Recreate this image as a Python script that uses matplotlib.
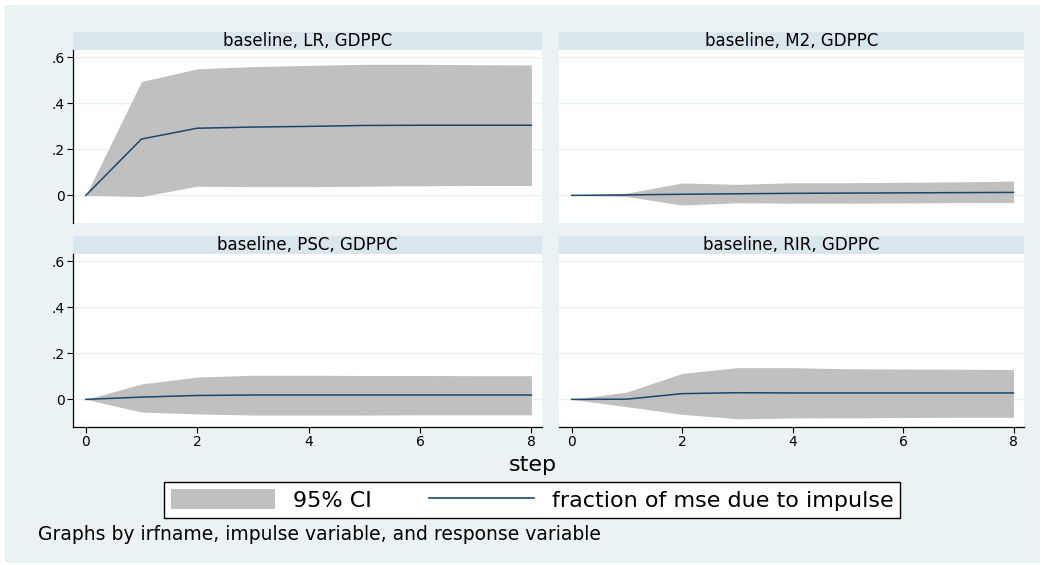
import matplotlib.pyplot as plt
from matplotlib.patches import Rectangle, Patch
from matplotlib.lines import Line2D

W, H = 1049, 565

steps = [0, 1, 2, 3, 4, 5, 6, 7, 8]

titles = ["baseline, LR, GDPPC", "baseline, M2, GDPPC",
          "baseline, PSC, GDPPC", "baseline, RIR, GDPPC"]

# fraction of mse due to impulse, with 95% CI bounds
lr_fev = [0, 0.245, 0.292, 0.297, 0.300, 0.304, 0.305, 0.305, 0.305]
lr_lo = [0, -0.005, 0.040, 0.038, 0.038, 0.040, 0.042, 0.043, 0.043]
lr_hi = [0, 0.495, 0.550, 0.560, 0.565, 0.570, 0.570, 0.568, 0.567]

m2_fev = [0, 0.002, 0.005, 0.007, 0.009, 0.010, 0.011, 0.012, 0.013]
m2_lo = [0, -0.005, -0.042, -0.032, -0.034, -0.034, -0.033, -0.031, -0.031]
m2_hi = [0, 0.010, 0.054, 0.048, 0.055, 0.055, 0.057, 0.059, 0.062]

psc_fev = [0, 0.010, 0.017, 0.019, 0.019, 0.019, 0.019, 0.019, 0.019]
psc_lo = [0, -0.055, -0.063, -0.068, -0.068, -0.068, -0.067, -0.067, -0.067]
psc_hi = [0, 0.067, 0.097, 0.105, 0.105, 0.104, 0.104, 0.103, 0.103]

rir_fev = [0, 0.001, 0.025, 0.029, 0.028, 0.028, 0.028, 0.028, 0.028]
rir_lo = [0, -0.032, -0.065, -0.084, -0.081, -0.080, -0.079, -0.078, -0.078]
rir_hi = [0, 0.032, 0.113, 0.138, 0.138, 0.133, 0.132, 0.131, 0.130]

series = [(lr_fev, lr_lo, lr_hi), (m2_fev, m2_lo, m2_hi),
          (psc_fev, psc_lo, psc_hi), (rir_fev, rir_lo, rir_hi)]

bg = "#EAF2F3"
strip = "#D9E6EB"
ci_col = "#C0C0C0"
navy = "#1A476F"


def rect(x0, y0, x1, y1):
    return [x0 / W, 1 - y1 / H, (x1 - x0) / W, (y1 - y0) / H]


fig = plt.figure(figsize=(W / 100, H / 100), dpi=100)
fig.patch.set_facecolor("white")
fig.patches.append(Rectangle((5 / W, 1 - 563 / H), 1035 / W, 558 / H,
                             transform=fig.transFigure, facecolor=bg,
                             edgecolor="none", zorder=-10))

boxes = [(73, 50, 542, 223), (559, 50, 1024, 223),
         (73, 254, 542, 427), (559, 254, 1024, 427)]

for i, (x0, y0, x1, y1) in enumerate(boxes):
    # header strip
    sax = fig.add_axes(rect(x0, y0 - 18, x1, y0))
    sax.set_facecolor(strip)
    sax.set_xticks([])
    sax.set_yticks([])
    for s in sax.spines.values():
        s.set_visible(False)
    sax.text(0.5, 0.5, titles[i], ha="center", va="center", fontsize=12,
             transform=sax.transAxes)

    ax = fig.add_axes(rect(x0, y0, x1, y1))
    ax.set_facecolor("white")
    fev, lo, hi = series[i]
    ax.fill_between(steps, lo, hi, color=ci_col, linewidth=0, zorder=2)
    ax.plot(steps, fev, color=navy, linewidth=1.1, zorder=3)

    ax.set_xlim(-0.23, 8.19)
    ax.set_ylim(-0.12, 0.632)
    ax.set_yticks([0, 0.2, 0.4, 0.6])
    ax.set_xticks([0, 2, 4, 6, 8])
    ax.grid(axis="y", color=bg, linewidth=1.0, zorder=1)
    ax.set_axisbelow(True)

    for s in ax.spines.values():
        s.set_visible(False)
    left = i in (0, 2)
    bottom = i in (2, 3)
    if left:
        ax.spines["left"].set_visible(True)
        ax.spines["left"].set_linewidth(0.9)
        ax.set_yticklabels(["0", ".2", ".4", ".6"])
        ax.tick_params(axis="y", direction="out", length=4, width=0.8,
                       labelsize=10, pad=2)
    else:
        ax.tick_params(axis="y", left=False, labelleft=False)
    if bottom:
        ax.spines["bottom"].set_visible(True)
        ax.spines["bottom"].set_linewidth(0.9)
        ax.set_xticklabels(["0", "2", "4", "6", "8"])
        ax.tick_params(axis="x", direction="out", length=4, width=0.8,
                       labelsize=10, pad=2)
    else:
        ax.tick_params(axis="x", bottom=False, labelbottom=False)

fig.text(533 / W, 1 - 465 / H, "step", ha="center", va="center", fontsize=16)

handles = [Patch(facecolor=ci_col, edgecolor="none"),
           Line2D([], [], color=navy, linewidth=1.2)]
leg = fig.legend(handles, ["95% CI", "fraction of mse due to impulse"],
                 loc="center", bbox_to_anchor=(532 / W, 1 - 500 / H),
                 ncol=2, frameon=True, fancybox=False, edgecolor="black",
                 framealpha=1, fontsize=16, handlelength=4.7, handleheight=0.95,
                 handletextpad=0.8, columnspacing=2.6, borderpad=0.32,
                 borderaxespad=0)
leg.get_frame().set_linewidth(1.0)

fig.text(38 / W, 1 - 535 / H,
         "Graphs by irfname, impulse variable, and response variable",
         ha="left", va="center", fontsize=13.5)

fig.savefig("out.png", dpi=100)
